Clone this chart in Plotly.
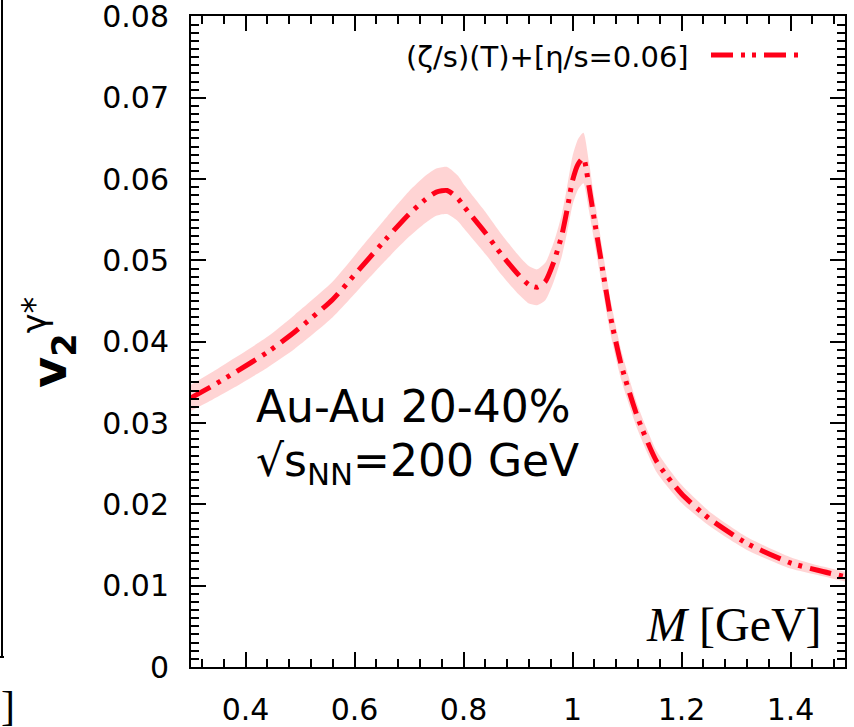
import plotly.graph_objects as go

# Data
mass = [0.30, 0.34, 0.38, 0.44, 0.49, 0.56, 0.61, 0.66, 0.70, 0.73, 0.75, 0.77, 0.79, 0.80,
        0.84, 0.87, 0.90, 0.92, 0.935, 0.95, 0.965, 0.98, 0.99, 1.00, 1.01, 1.02, 1.03, 1.04,
        1.05, 1.07, 1.09, 1.12, 1.155, 1.20, 1.25, 1.32, 1.40, 1.45, 1.50]
v2 = [0.0331, 0.0346, 0.0362, 0.0387, 0.0412, 0.0452, 0.0490, 0.0528, 0.0557, 0.0575, 0.0584,
      0.0586, 0.0576, 0.0567, 0.0534, 0.0507, 0.0483, 0.0470, 0.0467, 0.0474, 0.0497, 0.0530,
      0.0562, 0.0598, 0.0618, 0.0626, 0.0592, 0.0550, 0.0510, 0.0430, 0.0370, 0.0306, 0.0252,
      0.0213, 0.0183, 0.0152, 0.0128, 0.0119, 0.0111]
v2_lo = [0.0315, 0.0329, 0.0344, 0.0368, 0.0391, 0.0430, 0.0466, 0.0502, 0.0529, 0.0546, 0.0555,
         0.0557, 0.0548, 0.0540, 0.0508, 0.0482, 0.0459, 0.0447, 0.0445, 0.0451, 0.0473, 0.0504,
         0.0534, 0.0568, 0.0587, 0.0595, 0.0562, 0.0523, 0.0485, 0.0409, 0.0352, 0.0291, 0.0239,
         0.0202, 0.0174, 0.0144, 0.0121, 0.0113, 0.0105]
v2_hi = [0.0347, 0.0363, 0.0380, 0.0406, 0.0433, 0.0474, 0.0514, 0.0554, 0.0585, 0.0604, 0.0613,
         0.0615, 0.0604, 0.0594, 0.0560, 0.0532, 0.0507, 0.0493, 0.0489, 0.0497, 0.0521, 0.0556,
         0.0590, 0.0628, 0.0649, 0.0657, 0.0622, 0.0577, 0.0535, 0.0451, 0.0388, 0.0321, 0.0265,
         0.0224, 0.0192, 0.0160, 0.0135, 0.0125, 0.0117]

x_ticks = [0.4, 0.6, 0.8, 1.0, 1.2, 1.4]
x_labels = ["0.4", "0.6", "0.8", "1", "1.2", "1.4"]
y_ticks = [0, 0.01, 0.02, 0.03, 0.04, 0.05, 0.06, 0.07, 0.08]
y_labels = ["0", "0.01", "0.02", "0.03", "0.04", "0.05", "0.06", "0.07", "0.08"]

RED = "rgb(255,0,25)"
BAND = "rgba(255,0,0,0.17)"
DASH = "22px,8px,4px,7px,4px,8px"
SANS = "DejaVu Sans"

fig = go.Figure()
fig.add_trace(go.Scatter(x=mass, y=v2_lo, mode="lines", line=dict(width=0, shape="spline", smoothing=0.6),
                         showlegend=False, hoverinfo="skip"))
fig.add_trace(go.Scatter(x=mass, y=v2_hi, mode="lines", line=dict(width=0, shape="spline", smoothing=0.6),
                         fill="tonexty", fillcolor=BAND, showlegend=False, hoverinfo="skip"))
fig.add_trace(go.Scatter(x=mass, y=v2, mode="lines",
                         line=dict(color=RED, width=5, dash=DASH, shape="spline", smoothing=0.6),
                         showlegend=False))

axis_common = dict(showline=True, linecolor="black", linewidth=2, mirror="ticks",
                   ticks="inside", ticklen=15, tickwidth=2, tickcolor="black",
                   showgrid=False, zeroline=False, automargin=False, ticklabeloverflow="allow",
                   tickfont=dict(family=SANS, size=30, color="black"))

fig.update_xaxes(range=[0.3, 1.5], tickvals=x_ticks, ticktext=x_labels,
                 minor=dict(ticks="inside", ticklen=8, tickwidth=2, tickcolor="black", dtick=0.04, tick0=0.4),
                 ticklabelstandoff=15, **axis_common)
fig.update_yaxes(range=[0, 0.08006], tickvals=y_ticks, ticktext=y_labels,
                 minor=dict(ticks="inside", ticklen=8, tickwidth=2, tickcolor="black", dtick=0.001, tick0=0),
                 ticklabelstandoff=14, **axis_common)

W0, W1, H0, H1 = 191, 845, 16, 667
def px(xp):
    return (xp - W0) / (W1 - W0)
def py(yp):
    return (H1 - yp) / (H1 - H0)

annotations = [
    dict(text="(ζ/s)(T)+[η/s=0.06]", x=px(691), y=py(57), xref="paper", yref="paper",
         xanchor="right", yanchor="middle", showarrow=False, font=dict(family=SANS, size=29, color="black")),
    dict(text="Au-Au 20-40%", x=px(254), y=py(406), xref="paper", yref="paper",
         xanchor="left", yanchor="middle", showarrow=False, font=dict(family=SANS, size=44, color="black")),
    dict(text="√s<sub>NN</sub>=200 GeV", x=px(254), y=py(463), xref="paper", yref="paper",
         xanchor="left", yanchor="middle", showarrow=False, font=dict(family=SANS, size=44, color="black")),
    dict(text="<i>M</i> [GeV]", x=px(824), y=py(624), xref="paper", yref="paper",
         xanchor="right", yanchor="middle", showarrow=False, font=dict(family="Liberation Serif", size=48, color="black")),
    dict(text="<b>v</b><sub><b>2</b></sub><sup>γ*</sup>", x=px(50), y=py(343), xref="paper", yref="paper",
         xanchor="center", yanchor="middle", textangle=-90, showarrow=False,
         font=dict(family=SANS, size=48, color="black")),
    dict(text="]", x=px(8), y=py(706), xref="paper", yref="paper", xanchor="center", yanchor="middle",
         showarrow=False, font=dict(family="Liberation Serif", size=42, color="black")),
]

shapes = [
    dict(type="line", xref="paper", yref="paper", x0=px(711), x1=px(805), y0=py(55), y1=py(55),
         line=dict(color=RED, width=5, dash=DASH)),
    dict(type="line", xref="paper", yref="paper", x0=px(2), x1=px(2), y0=py(0), y1=py(657),
         line=dict(color="black", width=2)),
    dict(type="line", xref="paper", yref="paper", x0=px(0), x1=px(4), y0=py(657), y1=py(657),
         line=dict(color="black", width=2)),
]

fig.update_layout(width=854, height=727, margin=dict(l=191, r=9, t=16, b=60),
                  paper_bgcolor="white", plot_bgcolor="white",
                  annotations=annotations, shapes=shapes, showlegend=False)

fig.write_html("out.html")
